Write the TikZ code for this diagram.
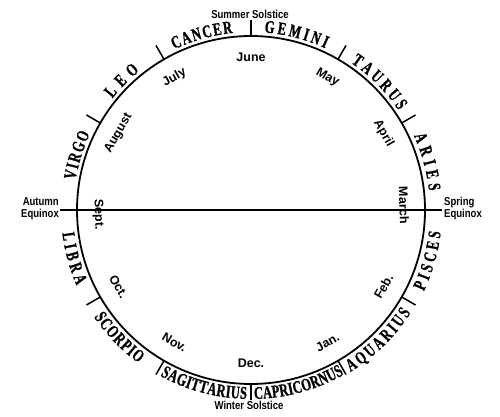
\documentclass[tikz,border=0pt]{standalone}
\usepackage{fontspec}
\usetikzlibrary{decorations.text}
\newfontfamily\zodfont[FakeStretch=0.69,FakeBold=1]{Liberation Serif}
\newfontfamily\monfont{Liberation Sans}
\newfontfamily\labfont[FakeStretch=0.83]{Liberation Sans}
\newcommand\zod{\zodfont\bfseries\fontsize{18pt}{18pt}\selectfont}
\tikzset{
  ring/.style={line width=1.8pt},
  zodtick/.style={line width=1.5pt},
  month/.style={font=\monfont\bfseries\fontsize{12.5pt}{12.5pt}\selectfont, inner sep=0pt},
  lab/.style={font=\labfont\bfseries\fontsize{11.5pt}{12pt}\selectfont, inner sep=0pt},
  zodlab/.style={decorate, decoration={text along path, text={|\zod|#1}, text align={fit to path}}}
}
\begin{document}
\begin{tikzpicture}
\useasboundingbox (0,0) rectangle (500pt,417pt);
\begin{scope}[shift={(251pt,207pt)}]
\coordinate (C) at (0,0);
\draw[ring] (C) circle[radius=174pt];
\coordinate (AE) at (-191pt,0);
\coordinate (SE) at (191pt,0);
\draw[ring] (AE) -- (SE);
\foreach \a in {30,60,90,120,150,210,240,270,300,330}
  \draw[zodtick] (\a:174pt) -- (\a:190pt);
% months
\node[month, rotate=0] (jun) at (90:153pt) {June};
\node[month, rotate=30] (jul) at (120:153pt) {July};
\node[month, rotate=60] (aug) at (150:153pt) {August};
\node[month, rotate=271.8] (sep) at (181.8:153pt) {Sept.};
\node[month, rotate=300] (oct) at (210:153pt) {Oct.};
\node[month, rotate=330] (nov) at (240:153pt) {Nov.};
\node[month, rotate=0] (dec) at (270:153pt) {Dec.};
\node[month, rotate=30] (jan) at (300:153pt) {Jan.};
\node[month, rotate=60] (feb) at (330:153pt) {Feb.};
\node[month, rotate=-88.2] (mar) at (1.8:153pt) {March};
\node[month, rotate=-60] (apr) at (30:153pt) {April};
\node[month, rotate=-30] (may) at (60:153pt) {May};
% zodiac, top half
\path[zodlab=CANCER] (115.5:178pt) arc[start angle=115.5, end angle=95.9, radius=178pt];
\path[zodlab=GEMINI] (85.7:178pt) arc[start angle=85.7, end angle=65.3, radius=178pt];
\path[zodlab=TAURUS] (55.8:178pt) arc[start angle=55.8, end angle=34, radius=178pt];
\path[zodlab=ARIES] (24.5:179pt) arc[start angle=24.5, end angle=6.1, radius=179pt];
\path[zodlab=LEO] (141.2:178pt) arc[start angle=141.2, end angle=128.8, radius=178pt];
\path[zodlab=VIRGO] (170.3:178pt) arc[start angle=170.3, end angle=154.7, radius=178pt];
% zodiac, bottom half
\path[zodlab=LIBRA] (187:190pt) arc[start angle=187, end angle=203.4, radius=190pt];
\path[zodlab=SCORPIO] (214.3:190pt) arc[start angle=214.3, end angle=233.7, radius=190pt];
\path[zodlab=SAGITTARIUS] (241.3:189pt) arc[start angle=241.3, end angle=268.7, radius=189pt];
\path[zodlab=CAPRICORNUS] (271:189pt) arc[start angle=271, end angle=299.5, radius=189pt];
\path[zodlab=AQUARIUS] (301.6:190pt) arc[start angle=301.6, end angle=327.3, radius=190pt];
\path[zodlab=PISCES] (334.8:191pt) arc[start angle=334.8, end angle=353.4, radius=191pt];
% solstices and equinoxes
\node[lab] (ss) at (-1pt,196pt) {Summer Solstice};
\node[lab] (ws) at (-2pt,-195pt) {Winter Solstice};
\node[lab, align=right, anchor=east] (ae) at ([xshift=-1pt,yshift=1.5pt]AE) {Autumn\\Equinox};
\node[lab, align=left, anchor=west] (se) at ([xshift=2pt,yshift=1.5pt]SE) {Spring\\Equinox};
\end{scope}
\end{tikzpicture}
\end{document}
